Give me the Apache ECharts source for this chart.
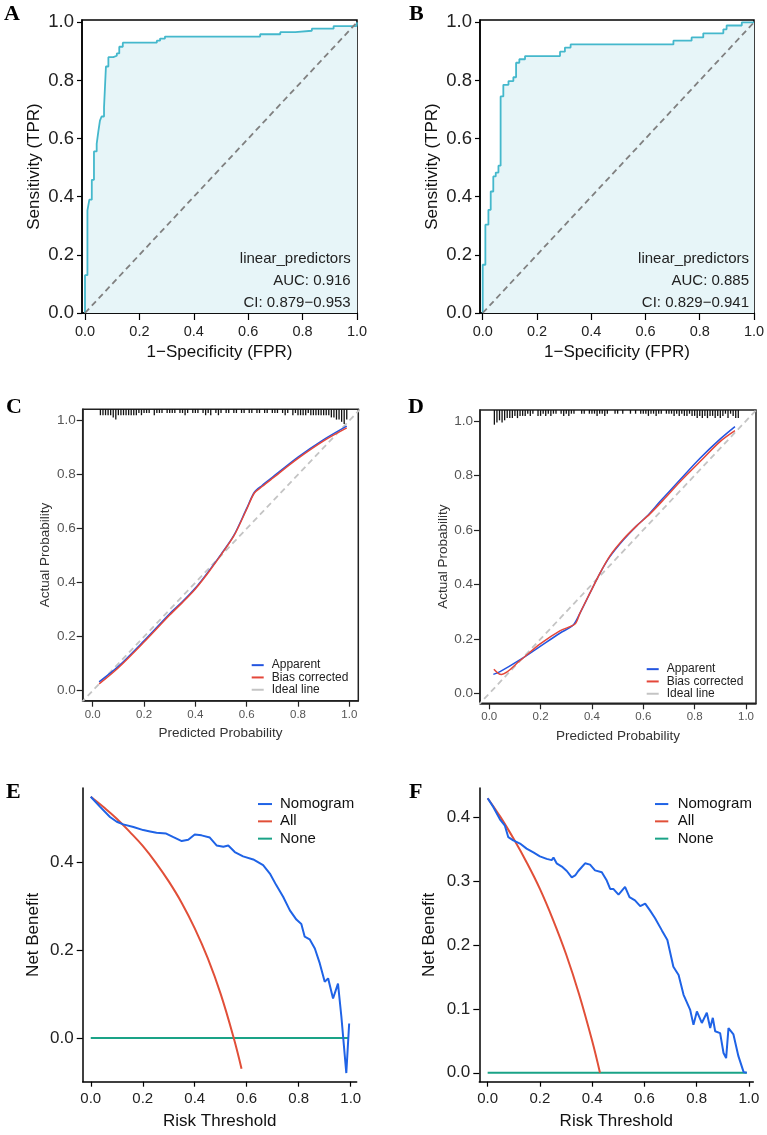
<!DOCTYPE html>
<html>
<head>
<meta charset="utf-8">
<script src="https://cdn.jsdelivr.net/npm/echarts@6.0.0/dist/echarts.min.js"></script>
<style>
html, body { margin: 0; padding: 0; background: #fff; }
#chart { width: 767px; height: 1135px; }
</style>
</head>
<body>
<div id="chart"></div>
<script>
// ---- data ----
const ticks01 = [0, 0.2, 0.4, 0.6, 0.8, 1.0]
const ticksEy = [0, 0.2, 0.4]
const ticksFy = [0, 0.1, 0.2, 0.3, 0.4]

// A: ROC training
const rocAFpr = [0, 0, 0.009, 0.016, 0.025, 0.033, 0.043, 0.049, 0.055, 0.061, 0.070, 0.077, 0.086, 0.104, 0.117, 0.126, 0.139, 0.264, 0.276, 0.294, 0.644, 0.718, 0.773, 0.834, 0.914, 0.998, 1.0]
const rocATpr = [0, 0.13, 0.353, 0.39, 0.458, 0.556, 0.582, 0.624, 0.662, 0.676, 0.708, 0.848, 0.88, 0.885, 0.893, 0.916, 0.93, 0.937, 0.944, 0.951, 0.959, 0.966, 0.971, 0.978, 0.987, 0.99, 1.0]
const rocAText = ['linear_predictors', 'AUC: 0.916', 'CI: 0.879\u22120.953']

// B: ROC validation
const rocBFpr = [0, 0, 0.0098, 0.021, 0.0295, 0.039, 0.048, 0.058, 0.066, 0.076, 0.095, 0.113, 0.123, 0.135, 0.156, 0.285, 0.303, 0.324, 0.703, 0.770, 0.813, 0.887, 0.899, 0.955, 1.0]
const rocBTpr = [0, 0.166, 0.304, 0.355, 0.418, 0.47, 0.483, 0.507, 0.745, 0.785, 0.798, 0.811, 0.861, 0.873, 0.884, 0.899, 0.913, 0.924, 0.937, 0.948, 0.962, 0.976, 0.989, 1.0, 1.0]
const rocBText = ['linear_predictors', 'AUC: 0.885', 'CI: 0.829\u22120.941']

const diagPts = [[0, 0], [1, 1]]
const idealPts = [[-0.1, -0.1], [1.1, 1.1]]

// C: calibration training
const calCx = [0.025, 0.1, 0.2, 0.3, 0.35, 0.4, 0.45, 0.5, 0.55, 0.6, 0.63, 0.66, 0.7, 0.8, 0.9, 0.99]
const calCApp = [0.033, 0.09, 0.185, 0.285, 0.33, 0.38, 0.44, 0.505, 0.575, 0.675, 0.735, 0.76, 0.79, 0.865, 0.93, 0.98]
const calCBias = [0.025, 0.085, 0.18, 0.28, 0.327, 0.377, 0.437, 0.503, 0.573, 0.672, 0.732, 0.756, 0.786, 0.86, 0.925, 0.973]
const rugC = [[0.03,2],[0.04,2],[0.05,2],[0.06,2],[0.07,2],[0.08,3],[0.09,4],[0.10,2],[0.11,2],[0.12,2],[0.13,2],[0.14,2],[0.15,2],[0.16,2],[0.17,2],[0.18,1],[0.19,2],[0.20,1],[0.21,1],[0.22,1],[0.24,2],[0.25,1],[0.26,1],[0.27,1],[0.29,1],[0.30,1],[0.31,1],[0.32,1],[0.34,1],[0.35,1],[0.36,2],[0.37,1],[0.39,1],[0.40,1],[0.41,1],[0.43,1],[0.44,2],[0.45,1],[0.46,2],[0.48,1],[0.49,2],[0.50,1],[0.52,1],[0.53,1],[0.55,1],[0.56,1],[0.58,1],[0.59,1],[0.61,1],[0.62,1],[0.64,1],[0.65,1],[0.67,1],[0.68,1],[0.70,1],[0.71,1],[0.72,1],[0.74,1],[0.75,2],[0.76,1],[0.78,2],[0.79,1],[0.80,2],[0.81,2],[0.82,2],[0.83,2],[0.84,1],[0.85,2],[0.86,2],[0.87,2],[0.88,2],[0.89,2],[0.90,2],[0.91,2],[0.92,2],[0.93,3],[0.94,3],[0.95,4],[0.96,4],[0.97,5],[0.98,6],[0.99,4]]

// D: calibration validation
const calDx = [0.016, 0.042, 0.119, 0.197, 0.275, 0.327, 0.353, 0.392, 0.431, 0.47, 0.522, 0.574, 0.613, 0.665, 0.743, 0.821, 0.899, 0.957]
const calDApp = [0.070, 0.08, 0.123, 0.172, 0.221, 0.251, 0.294, 0.368, 0.441, 0.502, 0.563, 0.615, 0.649, 0.704, 0.784, 0.863, 0.933, 0.979]
const calDBx = [0.018, 0.035, 0.048, 0.119, 0.197, 0.275, 0.334, 0.353, 0.392, 0.431, 0.47, 0.522, 0.574, 0.626, 0.678, 0.743, 0.821, 0.899, 0.957]
const calDBias = [0.089, 0.074, 0.070, 0.12, 0.181, 0.23, 0.255, 0.294, 0.368, 0.441, 0.505, 0.566, 0.615, 0.659, 0.71, 0.777, 0.851, 0.924, 0.964]
const rugD = [[0.02,6],[0.03,5],[0.04,4],[0.05,5],[0.06,4],[0.07,3],[0.08,3],[0.09,3],[0.10,2],[0.11,3],[0.12,2],[0.13,2],[0.14,2],[0.15,1],[0.16,2],[0.17,1],[0.19,2],[0.20,2],[0.21,1],[0.22,2],[0.23,1],[0.24,2],[0.25,1],[0.26,1],[0.28,1],[0.29,2],[0.30,1],[0.31,2],[0.32,1],[0.33,1],[0.36,1],[0.37,1],[0.39,1],[0.40,1],[0.41,1],[0.42,2],[0.43,1],[0.44,1],[0.45,2],[0.46,1],[0.49,1],[0.50,1],[0.52,1],[0.55,1],[0.57,1],[0.59,1],[0.60,1],[0.61,1],[0.62,2],[0.63,1],[0.64,1],[0.65,2],[0.66,1],[0.67,1],[0.69,1],[0.70,1],[0.71,1],[0.72,2],[0.73,1],[0.74,2],[0.75,1],[0.76,2],[0.77,2],[0.78,1],[0.79,2],[0.80,2],[0.81,3],[0.82,2],[0.83,3],[0.84,2],[0.85,3],[0.86,2],[0.87,2],[0.88,3],[0.89,2],[0.90,3],[0.91,2],[0.92,1],[0.93,3],[0.94,1],[0.95,2],[0.96,3],[0.97,3]]

// E: decision curve training
const nomEx = [0, 0.036, 0.074, 0.10, 0.125, 0.164, 0.202, 0.228, 0.253, 0.29, 0.318, 0.35, 0.375, 0.40, 0.426, 0.458, 0.484, 0.51, 0.529, 0.554, 0.586, 0.625, 0.663, 0.689, 0.714, 0.74, 0.766, 0.791, 0.81, 0.823, 0.842, 0.862, 0.881, 0.90, 0.913, 0.932, 0.951, 0.964, 0.983, 0.994]
const nomEy = [0.550, 0.527, 0.504, 0.493, 0.487, 0.481, 0.474, 0.471, 0.468, 0.466, 0.458, 0.449, 0.452, 0.464, 0.462, 0.457, 0.439, 0.436, 0.439, 0.424, 0.414, 0.407, 0.394, 0.375, 0.348, 0.322, 0.291, 0.270, 0.260, 0.231, 0.225, 0.204, 0.170, 0.128, 0.136, 0.090, 0.124, 0.049, -0.080, 0.033]
const allEx = [0, 0.05, 0.1, 0.15, 0.2, 0.25, 0.3, 0.35, 0.4, 0.45, 0.5, 0.55, 0.58]
const allEy = [0.55, 0.526, 0.50, 0.47, 0.438, 0.40, 0.357, 0.308, 0.25, 0.182, 0.10, 0.0, -0.07]
const noneEx = [0, 0.99]
const noneEy = [0, 0]

// F: decision curve validation
const nomFx = [0, 0.022, 0.047, 0.066, 0.079, 0.098, 0.124, 0.149, 0.175, 0.2, 0.226, 0.245, 0.252, 0.264, 0.284, 0.303, 0.322, 0.335, 0.347, 0.373, 0.392, 0.411, 0.437, 0.456, 0.469, 0.481, 0.501, 0.526, 0.543, 0.564, 0.584, 0.603, 0.622, 0.641, 0.667, 0.688, 0.711, 0.731, 0.75, 0.775, 0.788, 0.801, 0.82, 0.839, 0.852, 0.862, 0.871, 0.89, 0.903, 0.913, 0.922, 0.941, 0.96, 0.98, 0.992]
const nomFy = [0.430, 0.416, 0.397, 0.387, 0.369, 0.364, 0.359, 0.351, 0.345, 0.339, 0.335, 0.333, 0.337, 0.328, 0.323, 0.316, 0.306, 0.309, 0.316, 0.328, 0.326, 0.317, 0.314, 0.301, 0.288, 0.288, 0.279, 0.291, 0.275, 0.270, 0.261, 0.265, 0.254, 0.242, 0.223, 0.208, 0.166, 0.153, 0.122, 0.099, 0.075, 0.096, 0.078, 0.094, 0.070, 0.086, 0.065, 0.062, 0.031, 0.023, 0.070, 0.060, 0.026, 0.001, 0.0]
const allFx = [0, 0.05, 0.1, 0.15, 0.2, 0.25, 0.3, 0.35, 0.4, 0.43]
const allFy = [0.43, 0.40, 0.366, 0.329, 0.288, 0.24, 0.186, 0.123, 0.05, 0.0]
const noneFx = [0, 0.992]
const noneFy = [0, 0]

// ---- chart ----
const SANS = '"Liberation Sans", Arial, Helvetica, sans-serif'
const SERIF = '"Liberation Serif", "Times New Roman", serif'

const chart = echarts.init(document.getElementById('chart'))

function pairs(xs, ys) {
  return xs.map((x, i) => [x, ys[i]])
}

function axis(gridIndex, min, max, ticks, o) {
  return {
    type: 'value',
    gridIndex: gridIndex,
    min: min,
    max: max,
    splitLine: { show: false },
    axisLine: { show: true, onZero: false, lineStyle: { color: o.line, width: 1.5 } },
    axisTick: { show: true, customValues: ticks, length: o.tick, lineStyle: { color: o.line, width: 1.2 } },
    axisLabel: {
      customValues: ticks,
      formatter: (v) => v.toFixed(1),
      fontSize: o.size,
      color: o.color,
      margin: o.margin,
      fontFamily: SANS,
    },
    name: o.name,
    nameLocation: 'middle',
    nameGap: o.gap,
    nameTextStyle: { fontSize: o.nameSize, color: o.nameColor, fontFamily: SANS },
  }
}

// rug of predicted probabilities hanging from the top border
function rugSeries(idx, data) {
  return {
    type: 'custom',
    xAxisIndex: idx,
    yAxisIndex: idx,
    data: data,
    silent: true,
    renderItem: function (params, api) {
      const px = api.coord([api.value(0), 0])[0]
      const top = params.coordSys.y
      return {
        type: 'line',
        shape: { x1: px, y1: top, x2: px, y2: top + 1.5 + api.value(1) * 2.2 },
        style: { stroke: '#111', lineWidth: 1.3 },
      }
    },
  }
}

const grids = [
  { left: 82, top: 20, width: 275, height: 293, show: true, borderColor: '#000', borderWidth: 1.5 },
  { left: 480, top: 20, width: 274, height: 293, show: true, borderColor: '#000', borderWidth: 1.5 },
  { left: 82.7, top: 409.3, width: 275.6, height: 291.4, show: true, borderColor: '#222', borderWidth: 1.5 },
  { left: 480, top: 410, width: 276, height: 293.3, show: true, borderColor: '#222', borderWidth: 1.5 },
  { left: 82.7, top: 788, width: 274, height: 293.7 },
  { left: 479.3, top: 788, width: 274, height: 293.7 },
]
grids.forEach((g) => { g.outerBoundsMode = 'none'; g.containLabel = false })

const rocX = { line: '#000', tick: 7, size: 14.5, color: '#222', margin: 11, name: '1\u2212Specificity (FPR)', gap: 31, nameSize: 17, nameColor: '#111' }
const rocY = { line: '#000', tick: 5, size: 18.5, color: '#222', margin: 8, name: 'Sensitivity (TPR)', gap: 39, nameSize: 17, nameColor: '#111' }
const calX = { line: '#222', tick: 6, size: 11.5, color: '#555', margin: 8, name: 'Predicted Probability', gap: 26, nameSize: 13.5, nameColor: '#333' }
const calY = { line: '#222', tick: 6, size: 13.5, color: '#555', margin: 7, name: 'Actual Probability', gap: 30, nameSize: 13.5, nameColor: '#333' }
const dcaX = { line: '#000', tick: 5, size: 15, color: '#222', margin: 10, name: 'Risk Threshold', gap: 31, nameSize: 17, nameColor: '#111' }
const dcaY = { line: '#000', tick: 6, size: 17, color: '#222', margin: 9, name: 'Net Benefit', gap: 41, nameSize: 17, nameColor: '#111' }

const xAxes = [
  axis(0, -0.011, 1.0, ticks01, rocX),
  axis(1, -0.01, 1.0, ticks01, rocX),
  axis(2, -0.039, 1.035, ticks01, calX),
  axis(3, -0.036, 1.039, ticks01, calX),
  axis(4, -0.031, 1.023, ticks01, dcaX),
  axis(5, -0.032, 1.017, ticks01, dcaX),
]
const yAxes = [
  axis(0, 0, 1.008, ticks01, rocY),
  axis(1, 0, 1.008, ticks01, rocY),
  axis(2, -0.037, 1.042, ticks01, calY),
  axis(3, -0.036, 1.040, ticks01, calY),
  axis(4, -0.0997, 0.570, ticksEy, dcaY),
  axis(5, -0.014, 0.446, ticksFy, dcaY),
]

const ROC_LINE = '#44b8cc'
const ROC_FILL = '#e7f5f8'
const BLUE_CAL = '#2455e0'
const RED_CAL = '#e4473a'
const IDEAL = '#c4c4c4'
const BLUE_DCA = '#1f63e6'
const RED_DCA = '#e14f38'
const TEAL = '#1aa387'

function lineS(idx, name, data, color, width, extra) {
  return Object.assign({
    type: 'line', name: name, xAxisIndex: idx, yAxisIndex: idx, data: data,
    symbol: 'none', color: color, lineStyle: { color: color, width: width }, silent: true,
  }, extra || {})
}

const series = [
  lineS(0, 'rocA', pairs(rocAFpr, rocATpr), ROC_LINE, 1.8, { step: 'end', areaStyle: { color: ROC_FILL, opacity: 1 } }),
  lineS(0, 'diagA', diagPts, '#808080', 1.8, { lineStyle: { color: '#808080', width: 1.8, type: [6, 4] } }),
  lineS(1, 'rocB', pairs(rocBFpr, rocBTpr), ROC_LINE, 1.8, { step: 'end', areaStyle: { color: ROC_FILL, opacity: 1 } }),
  lineS(1, 'diagB', diagPts, '#808080', 1.8, { lineStyle: { color: '#808080', width: 1.8, type: [6, 4] } }),

  lineS(2, 'Ideal line', idealPts, IDEAL, 1.8, { lineStyle: { color: IDEAL, width: 1.8, type: [6, 4] } }),
  lineS(2, 'Apparent', pairs(calCx, calCApp), BLUE_CAL, 1.5, { smooth: 0.3 }),
  lineS(2, 'Bias corrected', pairs(calCx, calCBias), RED_CAL, 1.5, { smooth: 0.3 }),
  rugSeries(2, rugC),
  lineS(3, 'Ideal line', idealPts, IDEAL, 1.8, { lineStyle: { color: IDEAL, width: 1.8, type: [6, 4] } }),
  lineS(3, 'Apparent', pairs(calDx, calDApp), BLUE_CAL, 1.5, { smooth: 0.3 }),
  lineS(3, 'Bias corrected', pairs(calDBx, calDBias), RED_CAL, 1.5, { smooth: 0.3 }),
  rugSeries(3, rugD),

  lineS(4, 'None', pairs(noneEx, noneEy), TEAL, 2),
  lineS(4, 'All', pairs(allEx, allEy), RED_DCA, 2, { smooth: 0.4 }),
  lineS(4, 'Nomogram', pairs(nomEx, nomEy), BLUE_DCA, 2),
  lineS(5, 'None', pairs(noneFx, noneFy), TEAL, 2),
  lineS(5, 'All', pairs(allFx, allFy), RED_DCA, 2, { smooth: 0.4 }),
  lineS(5, 'Nomogram', pairs(nomFx, nomFy), BLUE_DCA, 2),
]

function calLegend(left, top) {
  return {
    data: ['Apparent', 'Bias corrected', 'Ideal line'],
    orient: 'vertical', left: left, top: top, padding: 0, itemGap: 0,
    icon: 'rect', itemWidth: 12, itemHeight: 2, selectedMode: false,
    textStyle: { fontSize: 12, lineHeight: 12.3, color: '#222', fontFamily: SANS, padding: [0, 0, 0, 3] },
  }
}
function dcaLegend(left, top, w, pad) {
  return {
    data: ['Nomogram', 'All', 'None'],
    orient: 'vertical', left: left, top: top, padding: 0, itemGap: 0,
    icon: 'rect', itemWidth: w, itemHeight: 2, selectedMode: false,
    textStyle: { fontSize: 15, lineHeight: 17.3, color: '#111', fontFamily: SANS, padding: [0, 0, 0, pad] },
  }
}

const titles = []
;[['A', 4, 3.3], ['B', 409, 3.3], ['C', 6, 396.3], ['D', 408, 396.3], ['E', 6, 781.3], ['F', 409, 781.3]].forEach((t) => {
  titles.push({
    text: t[0], left: t[1], top: t[2], padding: 0,
    textStyle: { fontSize: 22, lineHeight: 22, fontWeight: 'bold', fontFamily: SERIF, color: '#000' },
  })
})
function rocNote(lines, right) {
  const tops = [251.3, 273.8, 295.6]
  lines.forEach((s, i) => {
    titles.push({
      text: s, right: right, top: tops[i], padding: 0,
      textStyle: { fontSize: 15, lineHeight: 15, fontWeight: 'normal', fontFamily: SANS, color: '#222' },
    })
  })
}
rocNote(rocAText, 767 - 350.7)
rocNote(rocBText, 767 - 749)

chart.setOption({
  animation: false,
  backgroundColor: '#fff',
  title: titles,
  grid: grids,
  xAxis: xAxes,
  yAxis: yAxes,
  legend: [calLegend(251.7, 659), calLegend(646.7, 663), dcaLegend(258, 795.4, 14, 3), dcaLegend(655, 795.4, 13.3, 4.4)],
  series: series,
})
</script>
</body>
</html>
